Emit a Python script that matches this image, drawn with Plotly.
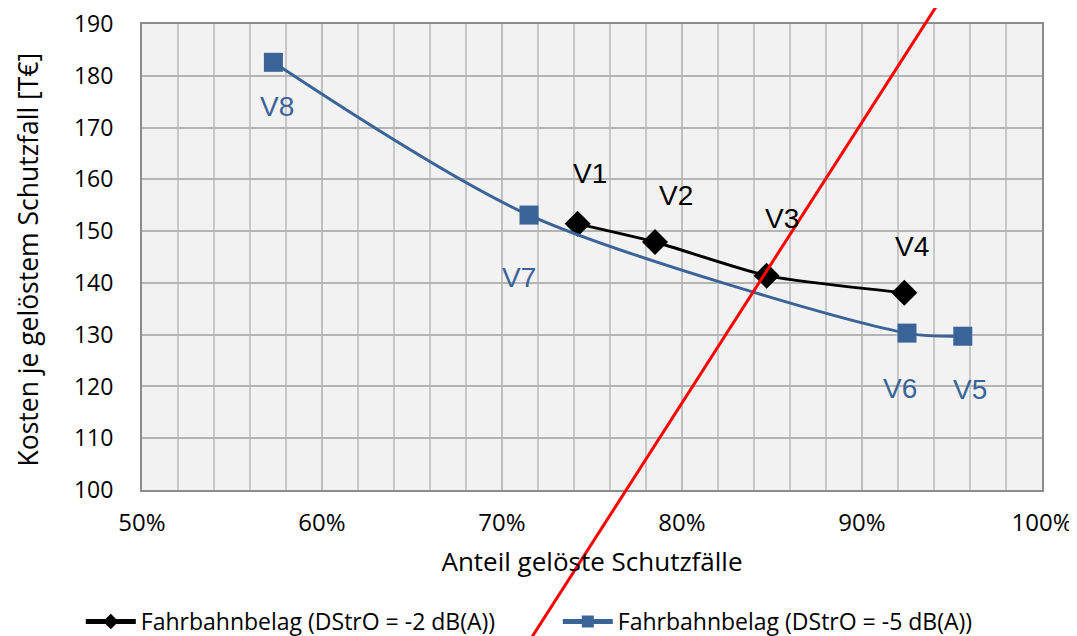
import plotly.graph_objects as go

# ---- data ----
black_names = ["V1", "V2", "V3", "V4"]
black_x = [0.742, 0.785, 0.847, 0.9235]
black_y = [151.4, 147.9, 141.4, 138.1]

blue_names = ["V8", "V7", "V6", "V5"]
blue_x = [0.573, 0.715, 0.925, 0.956]
blue_y = [182.6, 153.1, 130.3, 129.7]

series_names = ["Fahrbahnbelag (DStrO = -2 dB(A))", "Fahrbahnbelag (DStrO = -5 dB(A))"]

# red reference line, two points in data units
red_x = [0.769, 0.935]
red_y = [100, 190]

x_range = [0.5, 1.0]
y_range = [100, 190]
x_tickvals = [0.5, 0.6, 0.7, 0.8, 0.9, 1.0]
x_ticktext = ["50%", "60%", "70%", "80%", "90%", "100%"]

y_title = "Kosten je gelöstem Schutzfall [T€]"
x_title = "Anteil gelöste Schutzfälle"

# label offsets (pixels)
black_off = [(12, 50), (21, 46), (15, 57), (8, 46)]
blue_off = [(4, -44), (-10, -62), (-7, -55), (7, -53)]

BLUE = "#3A6498"
FONT = "Open Sans"

fig = go.Figure()
fig.add_trace(go.Scatter(
    x=black_x, y=black_y, mode="lines+markers", name=series_names[0],
    line=dict(color="black", width=3, shape="spline", smoothing=0.6),
    marker=dict(symbol="diamond", size=20, color="black"),
))
fig.add_trace(go.Scatter(
    x=blue_x, y=blue_y, mode="lines+markers", name=series_names[1],
    line=dict(color=BLUE, width=3, shape="spline", smoothing=0.8),
    marker=dict(symbol="square", size=19, color=BLUE),
))

annotations = []
for n, x, y, (dx, dy) in zip(black_names, black_x, black_y, black_off):
    annotations.append(dict(x=x, y=y, text=n, showarrow=False, xshift=dx, yshift=dy,
                            font=dict(family="Liberation Sans", size=28, color="black")))
for n, x, y, (dx, dy) in zip(blue_names, blue_x, blue_y, blue_off):
    annotations.append(dict(x=x, y=y, text=n, showarrow=False, xshift=dx, yshift=dy,
                            font=dict(family="Liberation Sans", size=28, color=BLUE)))
# y axis title as annotation (free placement)
annotations.append(dict(xref="paper", yref="paper", x=-0.127, y=0.494, text=y_title,
                        textangle=-90, showarrow=False, xanchor="center", yanchor="middle",
                        font=dict(family=FONT, size=26.5, color="black")))

# red line in paper coordinates, extended beyond plot area
def to_px(v, r):
    return (v - r[0]) / (r[1] - r[0])
px0, py0 = to_px(red_x[0], x_range), to_px(red_y[0], y_range)
px1, py1 = to_px(red_x[1], x_range), to_px(red_y[1], y_range)
slope = (px1 - px0) / (py1 - py0)
ya, yb = -0.32, 1.06
xa = px0 + slope * (ya - py0)
xb = px0 + slope * (yb - py0)

fig.update_layout(
    width=1069, height=628,
    margin=dict(l=134, r=35, t=16, b=146, autoexpand=False),
    paper_bgcolor="white", plot_bgcolor="#F2F2F2",
    font=dict(family=FONT, color="black", size=24),
    showlegend=True,
    legend=dict(orientation="h", x=-0.068, xanchor="left", y=-0.236, yanchor="top",
                font=dict(size=23, family=FONT), itemwidth=50,
                entrywidth=412, itemsizing="constant",
                bgcolor="rgba(0,0,0,0)"),
    annotations=annotations,
    shapes=[dict(type="line", xref="paper", yref="paper", x0=xa, y0=ya, x1=xb, y1=yb,
                 line=dict(color="#FF0000", width=3), layer="above")],
    xaxis=dict(range=x_range, tickvals=x_tickvals, ticktext=x_ticktext,
               automargin=False, ticklabeloverflow="allow",
               showgrid=True, gridcolor="#BFBFBF", gridwidth=1.5,
               minor=dict(dtick=0.02, tick0=0.5, showgrid=True, gridcolor="#C8C8C8", gridwidth=1.5),
               showline=True, linecolor="#8C8C8C", linewidth=2, mirror=True,
               ticks="outside", ticklen=10, tickcolor="rgba(0,0,0,0)",
               tickfont=dict(size=24),
               zeroline=False,
               title=dict(text=x_title, font=dict(size=26), standoff=16)),
    yaxis=dict(range=y_range, dtick=10, tick0=100,
               automargin=False, ticklabeloverflow="allow",
               showgrid=True, gridcolor="#B4B4B4", gridwidth=1.5,
               showline=True, linecolor="#8C8C8C", linewidth=2, mirror=True,
               ticks="outside", ticklen=22, tickcolor="rgba(0,0,0,0)",
               tickfont=dict(size=23),
               zeroline=False),
)

fig.write_html("out.html")
